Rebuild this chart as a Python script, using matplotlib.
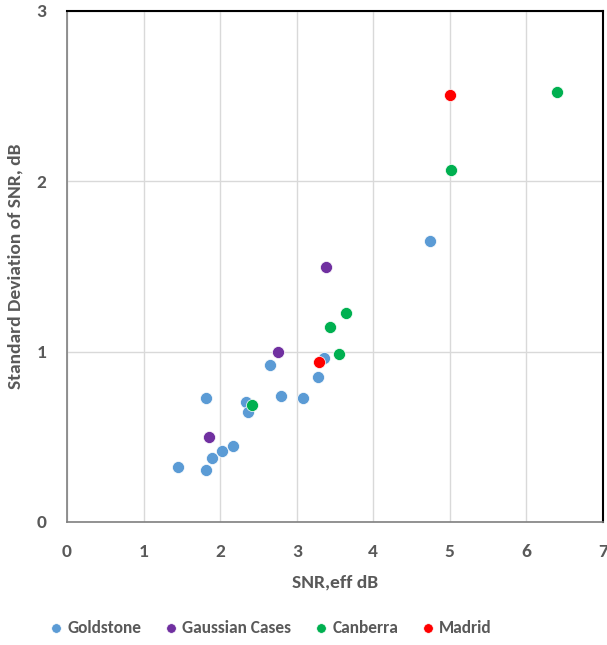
import matplotlib
matplotlib.use('Agg')
import matplotlib.pyplot as plt

plt.rcParams['font.family'] = ['Carlito', 'DejaVu Sans']
plt.rcParams['font.weight'] = 'bold'

# data
goldstone_x = [1.45, 1.81, 1.82, 1.89, 2.02, 2.17, 2.34, 2.36, 2.65, 2.80, 3.08, 3.28, 3.36, 4.74]
goldstone_y = [0.325, 0.307, 0.730, 0.374, 0.419, 0.448, 0.705, 0.646, 0.920, 0.738, 0.730, 0.850, 0.961, 1.648]

gaussian_x = [1.85, 2.75, 3.38]
gaussian_y = [0.497, 0.996, 1.499]

canberra_x = [2.42, 3.44, 3.55, 3.64, 5.02, 6.40]
canberra_y = [0.685, 1.147, 0.986, 1.227, 2.065, 2.525]

madrid_x = [3.29, 5.00]
madrid_y = [0.938, 2.509]

series = [
    ('Goldstone', goldstone_x, goldstone_y, '#5B9BD5'),
    ('Gaussian Cases', gaussian_x, gaussian_y, '#7030A0'),
    ('Canberra', canberra_x, canberra_y, '#00B050'),
    ('Madrid', madrid_x, madrid_y, '#FF0000'),
]

text_color = '#595959'

fig = plt.figure(figsize=(6.07, 6.45), dpi=100)
ax = fig.add_axes([0.1104, 0.1907, 0.883, 0.7923])

for name, xs, ys, c in series:
    ax.scatter(xs, ys, s=75, color=c, edgecolors='white', linewidths=0.5,
               label=name, zorder=3)

ax.set_xlim(0, 7)
ax.set_ylim(0, 3)
ax.set_xticks(range(0, 8))
ax.set_yticks([0, 1, 2, 3])
ax.grid(True, color='#d9d9d9', linewidth=1)
ax.set_axisbelow(True)
ax.tick_params(length=0, labelsize=14, labelcolor=text_color)
ax.tick_params(axis='x', pad=16)
ax.tick_params(axis='y', pad=15)
for lab in ax.get_xticklabels() + ax.get_yticklabels():
    lab.set_fontweight('bold')

for side in ['left', 'bottom']:
    ax.spines[side].set_color('#7f7f7f')
    ax.spines[side].set_linewidth(1.2)
for side in ['top', 'right']:
    ax.spines[side].set_color('black')
    ax.spines[side].set_linewidth(1.5)

ax.set_xlabel('SNR,eff dB', fontsize=14, color=text_color, fontweight='bold', labelpad=10)
ax.set_ylabel('Standard Deviation of SNR, dB', fontsize=14, color=text_color,
              fontweight='bold', labelpad=9)

fig.legend(loc='lower center', bbox_to_anchor=(0.447, -0.01), ncol=4, frameon=False,
           labelcolor=text_color, handlelength=0.6, handletextpad=0.35,
           columnspacing=1.4, markerscale=0.8, prop={'weight': 'bold', 'size': 12.5})

fig.savefig('out.png', dpi=100, facecolor='white')
